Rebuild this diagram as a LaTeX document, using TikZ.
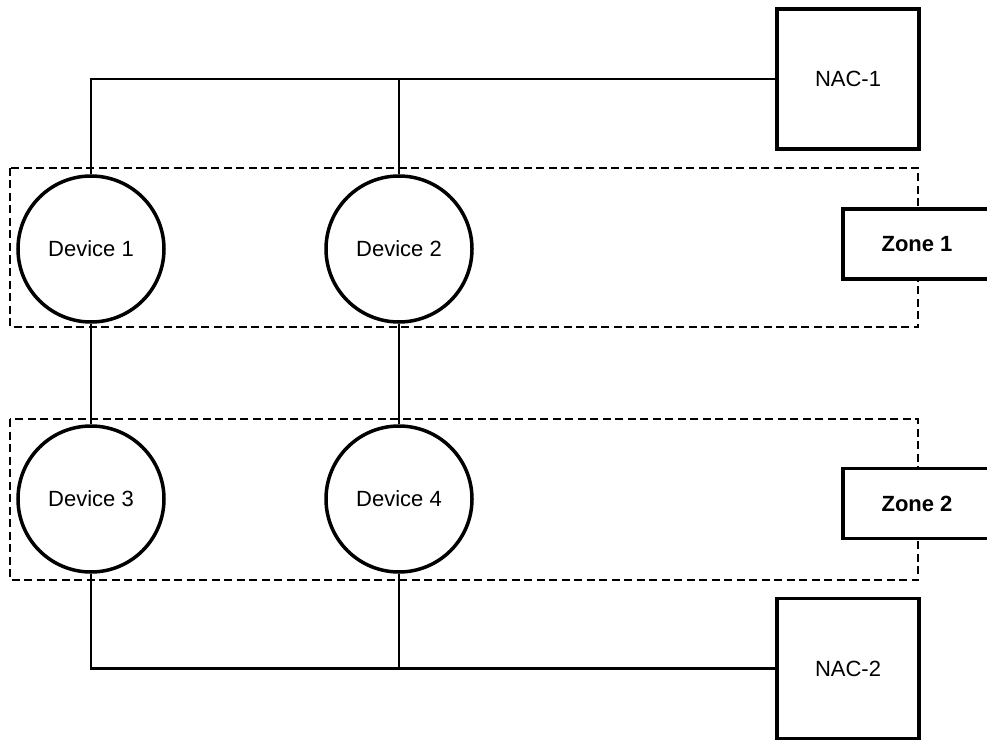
\documentclass[tikz,border=0pt]{standalone}
\usepackage{fontspec}
\setmainfont{Liberation Sans}
\begin{document}
\begin{tikzpicture}[x=1pt,y=-1pt,
  dev/.style={circle,draw,line width=3.5pt,fill=white,minimum size=146pt,inner sep=0pt,font=\fontsize{22}{26}\selectfont},
  nacbox/.style={rectangle,draw,line width=3.5pt,fill=white,minimum width=142pt,minimum height=140pt,inner sep=0pt,font=\fontsize{22}{26}\selectfont},
  zonebox/.style={rectangle,draw,line width=3.5pt,fill=white,minimum width=148pt,minimum height=70pt,inner sep=0pt,font=\bfseries\fontsize{22}{26}\selectfont},
  zonefr/.style={draw,line width=1.8pt,dash pattern=on 8pt off 4.5pt},
  wire/.style={draw,line width=2.4pt}]
\useasboundingbox (0,0) rectangle (987,743);
\begin{scope}
\clip (0,0) rectangle (987,743);
% dashed zone frames
\draw[zonefr] (10,168) rectangle (918,327);
\draw[zonefr] (10,419) rectangle (918,580);
% zone labels
\node[zonebox] (z1) at (917,244) {Zone 1};
\node[zonebox] (z2) at (917,503.5) {Zone 2};
\end{scope}
% NACs
\node[nacbox] (nac1) at (848,79) {NAC-1};
\node[nacbox] (nac2) at (848,668.5) {NAC-2};
% devices
\node[dev] (d1) at (91,249) {Device 1};
\node[dev] (d2) at (399,249) {Device 2};
\node[dev] (d3) at (91,499) {Device 3};
\node[dev] (d4) at (399,499) {Device 4};
% wiring
\draw[wire] (d1.north) |- (nac1.west);
\draw[wire] (d2.north) -- (d2.north |- nac1.west);
\draw[wire] (d1.south) -- (d3.north);
\draw[wire] (d2.south) -- (d4.north);
\draw[wire] (d3.south) |- (nac2.west);
\draw[wire] (d4.south) -- (d4.south |- nac2.west);
\end{tikzpicture}
\end{document}
